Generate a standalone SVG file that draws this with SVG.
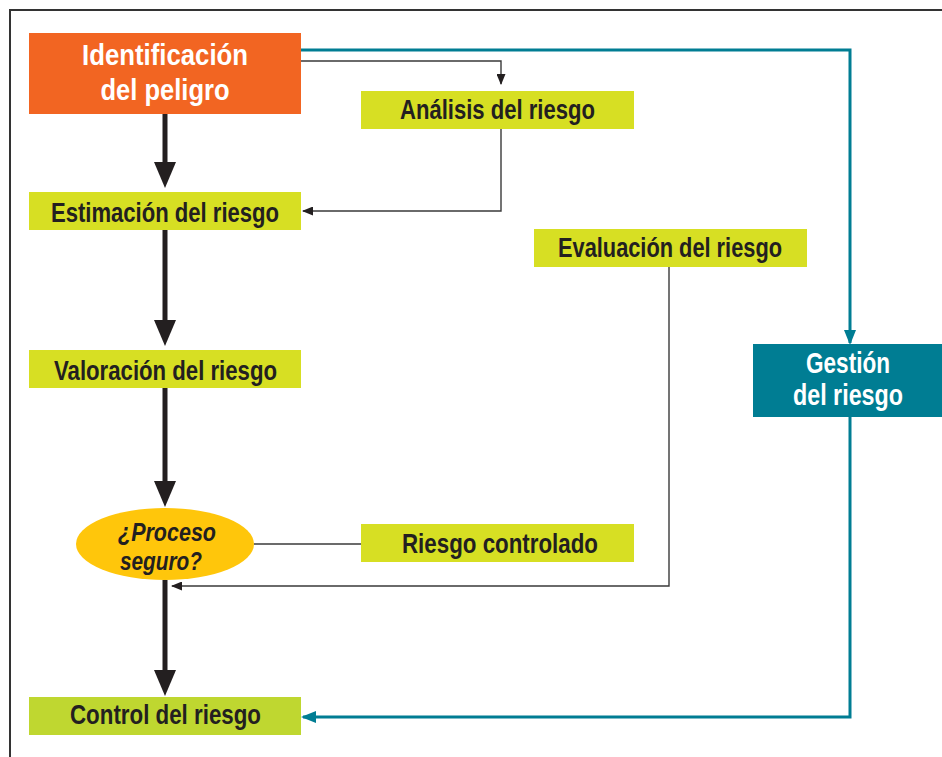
<svg xmlns="http://www.w3.org/2000/svg" width="942" height="757" viewBox="0 0 942 757">
<style>
.lbl{font-family:"Liberation Sans","DejaVu Sans",sans-serif;font-weight:bold;font-size:28.5px;fill:#231F20;text-anchor:middle}
.q{font-family:"Liberation Sans","DejaVu Sans",sans-serif;font-weight:bold;font-style:italic;font-size:26px;fill:#231F20;text-anchor:middle}
.wlbl{font-family:"Liberation Sans","DejaVu Sans",sans-serif;font-weight:bold;font-size:30px;fill:#FFFFFF;text-anchor:middle}
.ylw{fill:#D7DF23}
.thick{stroke:#231F20;stroke-width:5;fill:none}
.thin{stroke:#3A3A3A;stroke-width:1.4;fill:none}
.teal{stroke:#007D93;stroke-width:3;fill:none}
</style>
<defs>
<marker id="bigHead" markerUnits="userSpaceOnUse" markerWidth="26" markerHeight="22" viewBox="0 0 26 22" refX="3" refY="11" orient="auto">
<path d="M0,0 L26,11 L0,22 z" fill="#231F20"/>
</marker>
<marker id="thinHead" markerUnits="userSpaceOnUse" markerWidth="11" markerHeight="9" viewBox="0 0 11 9" refX="10" refY="4.5" orient="auto">
<path d="M0,0 L11,4.5 L0,9 z" fill="#231F20"/>
</marker>
<marker id="tealHead" markerUnits="userSpaceOnUse" markerWidth="15" markerHeight="12" viewBox="0 0 15 12" refX="13" refY="6" orient="auto">
<path d="M0,0 L15,6 L0,12 z" fill="#007D93"/>
</marker>
</defs>
<rect width="942" height="757" fill="#FFFFFF"/>
<path d="M942,10 L10,10 L10,757" fill="none" stroke="#333333" stroke-width="2"/>

<g id="connectors">
<line class="thick" x1="165" y1="114" x2="165" y2="165" marker-end="url(#bigHead)"/>
<line class="thick" x1="165" y1="230" x2="165" y2="323" marker-end="url(#bigHead)"/>
<line class="thick" x1="165" y1="388" x2="165" y2="484" marker-end="url(#bigHead)"/>
<line class="thick" x1="165" y1="580" x2="165" y2="673" marker-end="url(#bigHead)"/>
<path class="thin" d="M301,61 L501,61 L501,84" marker-end="url(#thinHead)"/>
<path class="thin" d="M501,129 L501,211 L303,211" marker-end="url(#thinHead)"/>
<path class="thin" d="M669,267 L669,586 L172,586" marker-end="url(#thinHead)"/>
<line class="thin" x1="254" y1="544" x2="361" y2="544"/>
<path class="teal" d="M301,50 L850,50 L850,343" marker-end="url(#tealHead)"/>
<path class="teal" d="M850,417 L850,717 L303,717" marker-end="url(#tealHead)"/>
</g>

<g id="identificacion">
<rect x="29" y="33" width="272" height="81" fill="#F26522"/>
<text class="wlbl" x="165" y="65" textLength="166" lengthAdjust="spacingAndGlyphs">Identificación</text>
<text class="wlbl" x="165" y="100" textLength="129" lengthAdjust="spacingAndGlyphs">del peligro</text>
</g>

<g id="analisis">
<rect class="ylw" x="361" y="91" width="273" height="38"/>
<text class="lbl" x="497.5" y="118.5" textLength="195" lengthAdjust="spacingAndGlyphs">Análisis del riesgo</text>
</g>

<g id="estimacion">
<rect class="ylw" x="29" y="192" width="272" height="38"/>
<text class="lbl" x="165" y="222" textLength="228" lengthAdjust="spacingAndGlyphs">Estimación del riesgo</text>
</g>

<g id="evaluacion">
<rect class="ylw" x="534" y="229" width="273" height="38"/>
<text class="lbl" x="670" y="257" textLength="224" lengthAdjust="spacingAndGlyphs">Evaluación del riesgo</text>
</g>

<g id="valoracion">
<rect class="ylw" x="29" y="350" width="272" height="38"/>
<text class="lbl" x="165.5" y="380" textLength="223" lengthAdjust="spacingAndGlyphs">Valoración del riesgo</text>
</g>

<g id="gestion">
<rect x="753" y="344" width="189" height="73" fill="#007D93"/>
<text class="wlbl" x="848" y="373" textLength="84" lengthAdjust="spacingAndGlyphs">Gestión</text>
<text class="wlbl" x="848" y="405" textLength="110" lengthAdjust="spacingAndGlyphs">del riesgo</text>
</g>

<g id="proceso">
<ellipse cx="165" cy="544" rx="89" ry="36" fill="#FFC60B"/>
<text class="q" x="167" y="541" textLength="98" lengthAdjust="spacingAndGlyphs">¿Proceso</text>
<text class="q" x="161" y="570" textLength="82" lengthAdjust="spacingAndGlyphs">seguro?</text>
</g>

<g id="controlado">
<rect class="ylw" x="361" y="524" width="273" height="38"/>
<text class="lbl" x="500" y="553" textLength="196" lengthAdjust="spacingAndGlyphs">Riesgo controlado</text>
</g>

<g id="control">
<rect x="29" y="697" width="272" height="38" fill="#BFD730"/>
<text class="lbl" x="165.5" y="724" textLength="191" lengthAdjust="spacingAndGlyphs">Control del riesgo</text>
</g>
</svg>
